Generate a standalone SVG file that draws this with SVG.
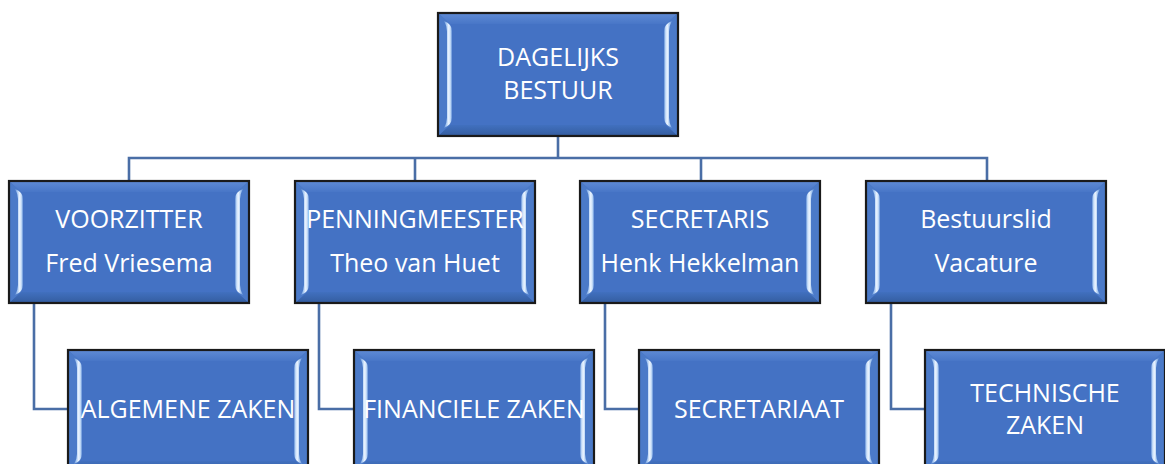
<svg xmlns="http://www.w3.org/2000/svg" xmlns:xlink="http://www.w3.org/1999/xlink" width="1165" height="464" viewBox="0 0 1165 464">
<style>
.face{fill:#4472C4}
.frame{fill:none;stroke:#1a1a1a;stroke-width:2.2}
.lbl{font-family:"Open Sans","Noto Sans","Liberation Sans",sans-serif;font-size:25px;fill:#ffffff;text-anchor:middle}
.conn{fill:none;stroke:#4a6ea6;stroke-width:2.6;stroke-linejoin:miter}
</style>
<defs>
<linearGradient id="gL" x1="0" y1="0" x2="1" y2="0">
<stop offset="0" stop-color="#5c8ad3"/>
<stop offset="0.3" stop-color="#a8c9f2"/>
<stop offset="0.6" stop-color="#eef6ff"/>
<stop offset="0.85" stop-color="#b3d0f4"/>
<stop offset="1" stop-color="#5a88d2"/>
</linearGradient>
<linearGradient id="gR" x1="1" y1="0" x2="0" y2="0">
<stop offset="0" stop-color="#5c8ad3"/>
<stop offset="0.3" stop-color="#a8c9f2"/>
<stop offset="0.6" stop-color="#eef6ff"/>
<stop offset="0.85" stop-color="#b3d0f4"/>
<stop offset="1" stop-color="#5a88d2"/>
</linearGradient>
<linearGradient id="gT" x1="0" y1="0" x2="0" y2="1">
<stop offset="0" stop-color="#5f8bd5"/>
<stop offset="1" stop-color="#4876c7"/>
</linearGradient>
<linearGradient id="gB" x1="0" y1="0" x2="0" y2="1">
<stop offset="0" stop-color="#4170bf"/>
<stop offset="1" stop-color="#345d9f"/>
</linearGradient>
<g id="box">
<rect class="face" x="0" y="0" width="240" height="122"/>
<polygon points="0,0 240,0 228,11 12,11" fill="url(#gT)"/>
<polygon points="0,122 240,122 228,111 12,111" fill="url(#gB)"/>
<polygon points="0,0 12,11 12,111 0,122" fill="#4b7ac8"/>
<path d="M6,8 Q14,11 14,18 L14,104 Q14,111 6,114 Q9,109 9,104 L9,18 Q9,13 6,8 Z" fill="url(#gL)"/>
<polygon points="240,0 228,11 228,111 240,122" fill="#4b7ac8"/>
<path d="M234,8 Q226,11 226,18 L226,104 Q226,111 234,114 Q231,109 231,104 L231,18 Q231,13 234,8 Z" fill="url(#gR)"/>
<rect class="frame" x="0" y="0" width="240" height="122"/>
</g>
</defs>

<g id="connectors">
<polyline class="conn" points="558,136 558,158"/>
<polyline class="conn" points="129,181 129,158 987,158 987,181"/>
<polyline class="conn" points="415,158 415,181"/>
<polyline class="conn" points="701,158 701,181"/>
<polyline class="conn" points="34,303 34,409 68,409"/>
<polyline class="conn" points="319,303 319,409 354,409"/>
<polyline class="conn" points="605,303 605,409 639,409"/>
<polyline class="conn" points="891,303 891,409 925,409"/>
</g>

<g id="node-dagelijks-bestuur">
<use xlink:href="#box" href="#box" transform="translate(438,13) scale(1,1.008)"/>
<text class="lbl" x="558" y="66">DAGELIJKS</text>
<text class="lbl" x="558" y="99">BESTUUR</text>
</g>

<g id="node-voorzitter">
<use xlink:href="#box" href="#box" transform="translate(9,181)"/>
<text class="lbl" x="129" y="228">VOORZITTER</text>
<text class="lbl" x="129" y="272">Fred Vriesema</text>
</g>

<g id="node-penningmeester">
<use xlink:href="#box" href="#box" transform="translate(295,181)"/>
<text class="lbl" x="415" y="228">PENNINGMEESTER</text>
<text class="lbl" x="415" y="272">Theo van Huet</text>
</g>

<g id="node-secretaris">
<use xlink:href="#box" href="#box" transform="translate(580,181)"/>
<text class="lbl" x="700" y="228">SECRETARIS</text>
<text class="lbl" x="700" y="272">Henk Hekkelman</text>
</g>

<g id="node-bestuurslid">
<use xlink:href="#box" href="#box" transform="translate(866,181)"/>
<text class="lbl" x="986" y="228">Bestuurslid</text>
<text class="lbl" x="986" y="272">Vacature</text>
</g>

<g id="node-algemene-zaken">
<use xlink:href="#box" href="#box" transform="translate(68,350)"/>
<text class="lbl" x="188" y="418">ALGEMENE ZAKEN</text>
</g>

<g id="node-financiele-zaken">
<use xlink:href="#box" href="#box" transform="translate(354,350)"/>
<text class="lbl" x="474" y="418">FINANCIELE ZAKEN</text>
</g>

<g id="node-secretariaat">
<use xlink:href="#box" href="#box" transform="translate(639,350)"/>
<text class="lbl" x="759" y="418">SECRETARIAAT</text>
</g>

<g id="node-technische-zaken">
<use xlink:href="#box" href="#box" transform="translate(925,350)"/>
<text class="lbl" x="1045" y="402">TECHNISCHE</text>
<text class="lbl" x="1045" y="434">ZAKEN</text>
</g>
</svg>
